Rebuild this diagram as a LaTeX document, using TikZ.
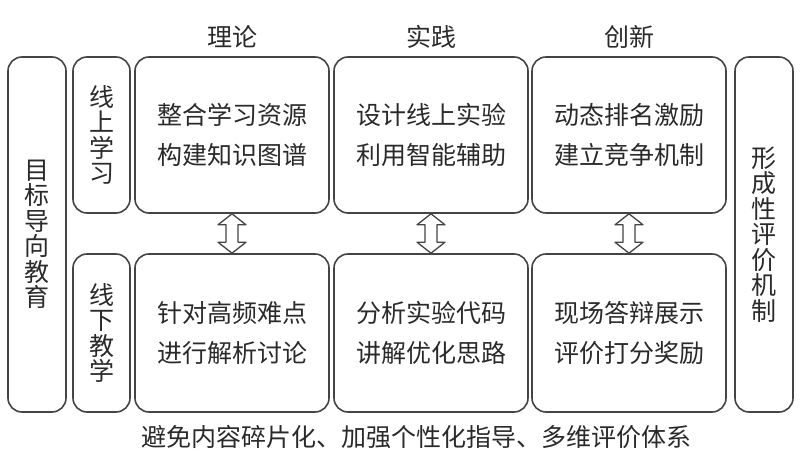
\documentclass[tikz,border=0pt]{standalone}
\usepackage{fontspec}
\setmainfont{Noto Sans CJK SC}
\usetikzlibrary{calc}
\definecolor{lineC}{HTML}{444444}
\definecolor{textC}{HTML}{2A2A2A}
\tikzset{
  box/.style={draw=lineC, line width=1.6pt, rounded corners=14pt, text=textC,
    inner sep=0pt, align=center, font=\fontsize{25}{40}\selectfont},
  vbox/.style={draw=lineC, line width=1.6pt, rounded corners=14pt, text=textC,
    inner sep=0pt, align=center, font=\fontsize{25}{25.5}\selectfont},
  lbl/.style={text=textC, inner sep=0pt, font=\fontsize{25}{30}\selectfont},
  dbl/.style={draw=lineC, line width=1.3pt, fill=white, line join=round}
}
\begin{document}
\begin{tikzpicture}[x=1pt,y=-1pt]
\useasboundingbox (0,0) rectangle (800,465);
% side boxes
\node[vbox, minimum width=58pt, minimum height=355pt] (goal) at (37,234.5) {目\\标\\导\\向\\教\\育};
\node[vbox, minimum width=58pt, minimum height=355pt] (eval) at (764,234.5) {形\\成\\性\\评\\价\\机\\制};
% row labels
\node[vbox, minimum width=57pt, minimum height=156pt] (online) at (101.5,135) {线\\上\\学\\习};
\node[vbox, minimum width=57pt, minimum height=158pt] (offline) at (101.5,333) {线\\下\\教\\学};
% headings
\node[lbl] (h1) at (232,37) {理论};
\node[lbl] (h2) at (431,37) {实践};
\node[lbl] (h3) at (629,37) {创新};
% top row
\node[box, minimum width=194pt, minimum height=156pt] (t1) at (232,135) {整合学习资源\\构建知识图谱};
\node[box, minimum width=194pt, minimum height=156pt] (t2) at (431,135) {设计线上实验\\利用智能辅助};
\node[box, minimum width=194pt, minimum height=156pt] (t3) at (629,135) {动态排名激励\\建立竞争机制};
% bottom row
\node[box, minimum width=194pt, minimum height=158pt] (b1) at (232,333) {针对高频难点\\进行解析讨论};
\node[box, minimum width=194pt, minimum height=158pt] (b2) at (431,333) {分析实验代码\\讲解优化思路};
\node[box, minimum width=194pt, minimum height=158pt] (b3) at (629,333) {现场答辩展示\\评价打分奖励};
% bottom caption
\node[lbl] (cap) at (416,437) {避免内容碎片化、加强个性化指导、多维评价体系};
% double arrows
\foreach \i in {1,2,3}{
  \draw[dbl] (t\i.south) -- ($(t\i.south)+(14,11)$) -- ($(t\i.south)+(6,11)$)
    -- ($(b\i.north)+(6,-11)$) -- ($(b\i.north)+(14,-11)$) -- (b\i.north)
    -- ($(b\i.north)+(-14,-11)$) -- ($(b\i.north)+(-6,-11)$)
    -- ($(t\i.south)+(-6,11)$) -- ($(t\i.south)+(-14,11)$) -- cycle;
}
\end{tikzpicture}
\end{document}
